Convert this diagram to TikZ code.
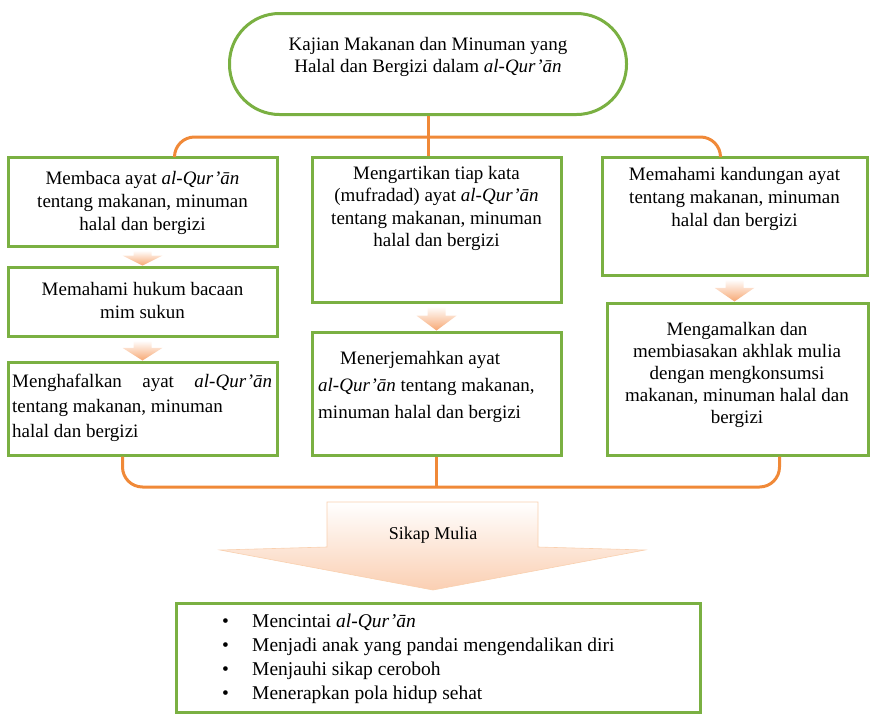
\documentclass[tikz,border=0pt]{standalone}
\usepackage{fontspec}
\setmainfont{Liberation Serif}
\usepackage{tikz}
\usetikzlibrary{calc}
\definecolor{hijau}{RGB}{122,176,66}
\definecolor{oranye}{RGB}{240,137,56}
\definecolor{persik}{RGB}{247,168,116}

% small block arrow from one box down to the next
\newcommand{\panahturun}[2]{%
  \shade[panah] let \p1 = (#1.south), \p2 = (#2.north), \n1 = {\y1-(\y2)} in
    (\x1-9pt,\y1-3pt) -- (\x1+9pt,\y1-3pt) -- (\x1+9pt,\y1-0.45*\n1) -- (\x1+20pt,\y1-0.45*\n1)
    -- (\x1,\y2) -- (\x1-20pt,\y1-0.45*\n1) -- (\x1-9pt,\y1-0.45*\n1) -- cycle;}

\begin{document}
\begin{tikzpicture}
   [x=1pt, y=-1pt,
    kotak/.style = {draw=hijau, line width=3pt, inner sep=0pt},
    teks/.style = {align=center, inner sep=0pt, font=\fontsize{19}{23}\selectfont},
    garis/.style = {draw=oranye, line width=3pt, rounded corners=20pt},
    panah/.style = {top color=white, bottom color=persik}]
    \useasboundingbox (0,0) rectangle (878,715);
    % Judul
    \node[kotak, rounded corners=50pt, minimum width=397pt, minimum height=101pt] (judul) at (428,64) {};
    \node[teks, font=\fontsize{19}{22}\selectfont] (judult) at (428,57) {Kajian Makanan dan Minuman yang\\Halal dan Bergizi dalam \textit{al-Qur’ān}};
    % Kolom kiri
    \node[kotak, minimum width=269pt, minimum height=89pt] (b1) at (142.5,201.5) {};
    \node[kotak, minimum width=269pt, minimum height=69pt] (b2) at (142.5,301.5) {};
    \node[kotak, minimum width=269pt, minimum height=93pt] (b3) at (142.5,408.5) {};
    \node[teks] (b1t) at (142.5,203) {Membaca ayat \textit{al-Qur’ān}\\tentang makanan, minuman\\halal dan bergizi};
    \node[teks] (b2t) at (142.5,300.5) {Memahami hukum bacaan\\mim sukun};
    \node[teks, align=left, anchor=west, font=\fontsize{19}{25}\selectfont] (b3t) at (12,408) {\makebox[260pt][s]{Menghafalkan ayat \textit{al-Qur’ān}}\\tentang makanan, minuman\\halal dan bergizi};
    % Kolom tengah
    \node[kotak, minimum width=249pt, minimum height=145pt] (m1) at (436.5,229.5) {};
    \node[kotak, minimum width=249pt, minimum height=123pt] (m2) at (436.5,393.5) {};
    \node[teks, font=\fontsize{19}{22.5}\selectfont] (m1t) at (436.5,208.5) {Mengartikan tiap kata\\(mufradad) ayat \textit{al-Qur’ān}\\tentang makanan, minuman\\halal dan bergizi};
    \node[teks, align=left, anchor=west, font=\fontsize{19}{27}\selectfont] (m2t) at (318,387) {\hspace*{22pt}Menerjemahkan ayat\\\textit{al-Qur’ān} tentang makanan,\\minuman halal dan bergizi};
    % Kolom kanan
    \node[kotak, minimum width=265pt, minimum height=118pt] (r1) at (734.5,216) {};
    \node[kotak, minimum width=261pt, minimum height=152pt] (r2) at (737.5,379) {};
    \node[teks] (r1t) at (734.5,198.5) {Memahami kandungan ayat\\tentang makanan, minuman\\halal dan bergizi};
    \node[teks, font=\fontsize{19}{22}\selectfont] (r2t) at (737,375) {Mengamalkan dan\\membiasakan akhlak mulia\\dengan mengkonsumsi\\makanan, minuman halal dan\\bergizi};
    % Sikap mulia
    \node[kotak, minimum width=524pt, minimum height=109pt] (daftar) at (438,657.5) {};
    \node[teks, align=left, anchor=west, font=\fontsize{19.5}{24}\selectfont] (daftart) at (222,659) {\makebox[30pt][l]{\textbullet}Mencintai \textit{al-Qur’ān}\\\makebox[30pt][l]{\textbullet}Menjadi anak yang pandai mengendalikan diri\\\makebox[30pt][l]{\textbullet}Menjauhi sikap ceroboh\\\makebox[30pt][l]{\textbullet}Menerapkan pola hidup sehat};
    % Garis
    \coordinate (atas) at (428,137);
    \coordinate (bawah) at (436,487);
    \draw[garis] (judul.south) -- (judul.south |- m1.north);
    \draw[garis] ([xshift=32pt]b1.north) |- (atas) -| ([xshift=-14pt]r1.north);
    \draw[garis] ([xshift=-20pt]b3.south) |- (bawah) -| ([xshift=42pt]r2.south);
    \draw[garis] (m2.south) -- (m2.south |- bawah);
    % Panah
    \panahturun{b1}{b2}
    \panahturun{b2}{b3}
    \panahturun{m1}{m2}
    \panahturun{r1}{r2}
    \shade[top color=white, middle color=persik, bottom color=persik!55, draw=oranye!40, line width=0.6pt]
      (327,502) -- (538,502) -- (538,547) -- (645,550) -- (433,590) -- (220,550) -- (327,547) -- cycle;
    \node[teks, font=\fontsize{18}{20}\selectfont] (sikap) at (433,535) {Sikap Mulia};
\end{tikzpicture}
\end{document}
